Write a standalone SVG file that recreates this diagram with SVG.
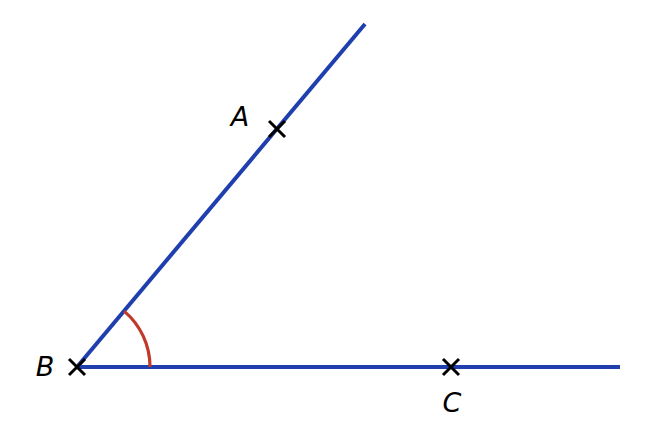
<svg xmlns="http://www.w3.org/2000/svg" width="653" height="445" viewBox="0 0 653 445">
<style>
.ray{stroke:#1f3fae;stroke-width:4;fill:none;stroke-linecap:butt}
.arc{stroke:#c0392b;stroke-width:3.2;fill:none}
.mark{stroke:#000;stroke-width:3;fill:none}
.lbl{font-family:"DejaVu Sans",sans-serif;font-style:italic;font-size:27px;fill:#000;text-anchor:middle}
</style>
<rect width="653" height="445" fill="#fff"/>
<g id="connectors">
<line class="ray" x1="77" y1="367" x2="365" y2="24"/>
<line class="ray" x1="77" y1="367" x2="620" y2="367"/>
<path id="angle" class="arc" d="M150,367 A73,73 0 0 0 124.1,311.1"/>
</g>
<g id="B">
<path class="mark" d="M69,359 L85,375 M69,375 L85,359"/>
<text class="lbl" x="45" y="376">B</text>
</g>
<g id="A">
<path class="mark" d="M269,121 L285,137 M269,137 L285,121"/>
<text class="lbl" x="240" y="126">A</text>
</g>
<g id="C">
<path class="mark" d="M443,359 L459,375 M443,375 L459,359"/>
<text class="lbl" x="452" y="412">C</text>
</g>
</svg>
